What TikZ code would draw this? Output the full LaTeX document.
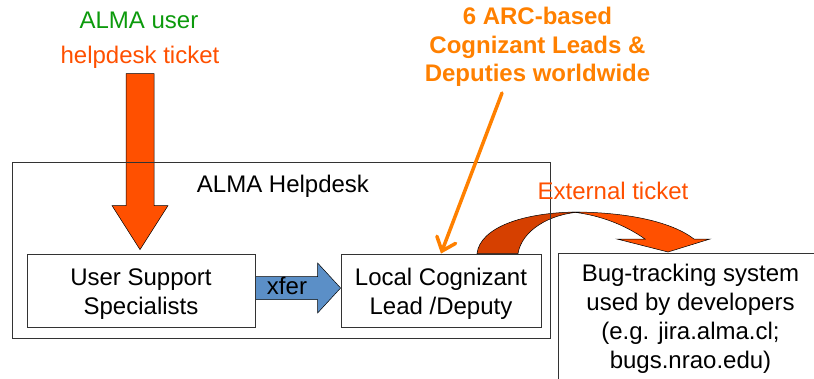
\documentclass[tikz,border=0pt]{standalone}
\usepackage{fontspec}
\setmainfont{Liberation Sans}
\usetikzlibrary{arrows.meta,calc}
\definecolor{ored}{HTML}{FF5000}
\definecolor{odark}{HTML}{D64000}
\definecolor{orng}{HTML}{FF8000}
\definecolor{agreen}{HTML}{0C9A0C}
\definecolor{xblue}{HTML}{5B8FC7}
\pgfdeclarelayer{background}
\pgfsetlayers{background,main}
\begin{document}
\begin{tikzpicture}[x=1pt,y=-1pt,
  box/.style={draw=black!80,line width=0.8pt,inner sep=0pt},
  txt/.style={font=\fontsize{24}{28.8}\selectfont,align=center,inner sep=0pt},
  fat/.style={draw=black,line width=0.5pt}]
\useasboundingbox (0,0) rectangle (814,378);
\clip (0,0) rectangle (814,378);
% boxes
\node[box,minimum width=538pt,minimum height=176pt] (desk) at (281,250) {};
\node[txt,anchor=base] (desktitle) at (283,192) {ALMA Helpdesk};
\node[box,minimum width=228pt,minimum height=73pt] (uss) at (141,290.5) {};
\node[txt] (usst) at (141,294.5) {User Support\\Specialists};
\node[box,minimum width=200pt,minimum height=73pt] (lcl) at (441,290.5) {};
\node[txt] (lclt) at (441,294) {Local Cognizant\\Lead /Deputy};
\node[box,minimum width=265pt,minimum height=132pt] (bug) at (690.5,319) {};
\node[txt] (bugt) at (690.5,318.8) {Bug-tracking system\\used by developers\\(e.g. jira.alma.cl;\\bugs.nrao.edu)};
% texts
\node[txt,anchor=base,text=agreen] (user) at (139,28) {ALMA user};
\node[txt,anchor=base,text=ored] (ticket) at (140,63) {helpdesk ticket};
\node[txt,text=orng,font=\fontsize{24}{28.5}\selectfont\bfseries] (arc) at (537.5,47.25) {6 ARC-based\\Cognizant Leads \&\\Deputies worldwide};
\node[txt,anchor=base,text=ored] (ext) at (613,199) {External ticket};
\coordinate (arcs) at (502,93);
\begin{pgfonlayer}{background}
% big incoming arrow
\coordinate (tip) at ($(uss.north)+(-1,-4)$);
\draw[fat,fill=ored] (tip) -- ++(28,-44) -- ++(-14,0) -- ++(0,-132) -- ++(-28,0) -- ++(0,132) -- ++(-14,0) -- cycle;
% xfer arrow
\draw[fat,fill=xblue] ($(uss.east)+(0,-14)$) -- ($(lcl.west)+(-23,-14)$) -- ($(lcl.west)+(-23,-27.5)$) -- ($(lcl.west)+(0,-2.5)$) -- ($(lcl.west)+(-23,22.5)$) -- ($(lcl.west)+(-23,9)$) -- ($(uss.east)+(0,9)$) -- cycle;
% curved external arrow
\draw[fat,fill=odark] (477,253.5) .. controls (480,228) and (522,212) .. (580,212) .. controls (550,214) and (522,230) .. (518,253.5) -- cycle;
\draw[fat,fill=ored] (572,212) .. controls (628,212) and (672,222) .. (694,239) -- (710,239) -- (668,252) -- (617,239) -- (645,239) .. controls (625,225) and (600,215) .. (572,212) -- cycle;
\end{pgfonlayer}
\node[txt] (xfer) at (287,285.5) {xfer};
% thin orange arrow
\draw[orng,line width=3.5pt,line cap=round,-{Straight Barb[length=12pt,width=20pt,line cap=round]}] (arcs) -- (lcl.north);
\end{tikzpicture}
\end{document}
